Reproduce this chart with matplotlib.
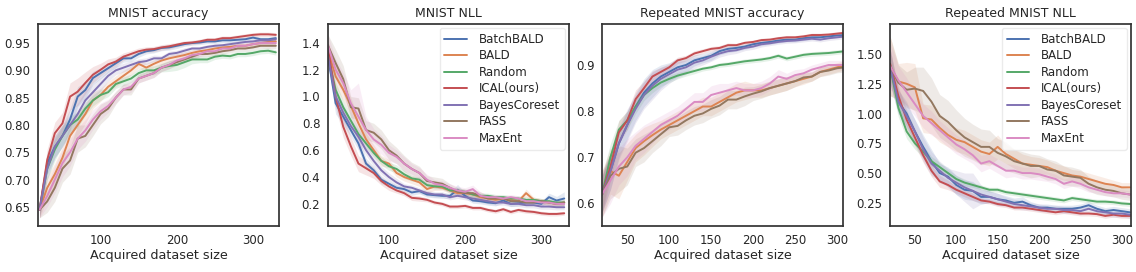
import numpy as np
import matplotlib
matplotlib.use("Agg")
import matplotlib.pyplot as plt
import seaborn as sns

# Стиль как в оригинале: белый фон, без сетки, палитра deep
sns.set_style("white")
plt.rcParams['font.family'] = ['DejaVu Sans']

methods = ["BatchBALD", "BALD", "Random", "ICAL(ours)", "BayesCoreset", "FASS", "MaxEnt"]
colors = sns.color_palette("deep", 7)

titles = ["MNIST accuracy", "MNIST NLL", "Repeated MNIST accuracy", "Repeated MNIST NLL"]

# region Данные: MNIST (размер выборки 20..330)
x_mnist = np.arange(20, 331, 10)
x_rep = np.arange(20, 311, 10)

acc_batchbald = [0.645, 0.730, 0.760, 0.780, 0.810, 0.852, 0.864, 0.886, 0.895, 0.904, 0.913, 0.922, 0.922, 0.930, 0.935, 0.937, 0.941, 0.942, 0.945, 0.948, 0.950, 0.951, 0.953, 0.953, 0.955, 0.955, 0.956, 0.957, 0.960, 0.957, 0.957, 0.959]
acc_bald = [0.645, 0.685, 0.710, 0.740, 0.780, 0.800, 0.820, 0.845, 0.855, 0.870, 0.880, 0.890, 0.900, 0.912, 0.905, 0.912, 0.918, 0.922, 0.925, 0.928, 0.932, 0.935, 0.937, 0.940, 0.942, 0.943, 0.945, 0.945, 0.948, 0.950, 0.952, 0.953]
acc_random = [0.645, 0.720, 0.755, 0.780, 0.800, 0.810, 0.830, 0.845, 0.855, 0.860, 0.875, 0.880, 0.885, 0.895, 0.900, 0.900, 0.905, 0.908, 0.910, 0.915, 0.920, 0.920, 0.920, 0.925, 0.927, 0.926, 0.930, 0.930, 0.932, 0.935, 0.936, 0.933]
acc_ical = [0.645, 0.736, 0.785, 0.803, 0.852, 0.861, 0.877, 0.892, 0.901, 0.911, 0.916, 0.925, 0.930, 0.935, 0.938, 0.939, 0.942, 0.944, 0.947, 0.950, 0.951, 0.953, 0.956, 0.956, 0.959, 0.959, 0.961, 0.963, 0.965, 0.966, 0.966, 0.965]
acc_coreset = [0.645, 0.720, 0.760, 0.780, 0.800, 0.820, 0.845, 0.860, 0.875, 0.890, 0.900, 0.905, 0.910, 0.915, 0.917, 0.922, 0.922, 0.930, 0.932, 0.936, 0.940, 0.940, 0.943, 0.945, 0.946, 0.948, 0.950, 0.952, 0.953, 0.955, 0.955, 0.957]
acc_fass = [0.645, 0.660, 0.685, 0.720, 0.735, 0.775, 0.780, 0.800, 0.820, 0.830, 0.850, 0.865, 0.865, 0.885, 0.890, 0.895, 0.905, 0.910, 0.915, 0.920, 0.925, 0.930, 0.930, 0.932, 0.935, 0.937, 0.940, 0.940, 0.942, 0.945, 0.945, 0.945]
acc_maxent = [0.645, 0.670, 0.700, 0.730, 0.750, 0.775, 0.790, 0.810, 0.825, 0.835, 0.850, 0.865, 0.870, 0.885, 0.890, 0.895, 0.905, 0.910, 0.918, 0.922, 0.928, 0.930, 0.935, 0.935, 0.940, 0.940, 0.945, 0.945, 0.948, 0.950, 0.950, 0.950]

# полуширина закрашенной полосы
acc_batchbald_sd = [0.015, 0.020, 0.020, 0.020, 0.020, 0.018, 0.015, 0.012, 0.010, 0.008, 0.008, 0.007, 0.006, 0.006, 0.005, 0.005, 0.005, 0.005, 0.005, 0.004, 0.004, 0.004, 0.004, 0.004, 0.004, 0.004, 0.004, 0.004, 0.004, 0.004, 0.004, 0.004]
acc_bald_sd = [0.015, 0.020, 0.020, 0.020, 0.020, 0.020, 0.018, 0.015, 0.012, 0.010, 0.010, 0.010, 0.008, 0.008, 0.008, 0.007, 0.007, 0.006, 0.006, 0.006, 0.005, 0.005, 0.005, 0.005, 0.005, 0.005, 0.005, 0.005, 0.005, 0.005, 0.005, 0.005]
acc_random_sd = [0.015, 0.020, 0.020, 0.018, 0.015, 0.015, 0.012, 0.010, 0.010, 0.008, 0.008, 0.008, 0.008, 0.008, 0.008, 0.008, 0.008, 0.010, 0.010, 0.010, 0.008, 0.006, 0.006, 0.005, 0.005, 0.005, 0.005, 0.005, 0.005, 0.005, 0.005, 0.005]
acc_ical_sd = [0.015, 0.020, 0.020, 0.020, 0.025, 0.025, 0.020, 0.015, 0.012, 0.010, 0.008, 0.007, 0.006, 0.006, 0.005, 0.005, 0.005, 0.005, 0.004, 0.004, 0.004, 0.004, 0.004, 0.004, 0.004, 0.004, 0.004, 0.004, 0.004, 0.004, 0.004, 0.004]
acc_coreset_sd = [0.015, 0.020, 0.020, 0.020, 0.020, 0.020, 0.018, 0.015, 0.012, 0.010, 0.008, 0.008, 0.007, 0.006, 0.006, 0.006, 0.005, 0.005, 0.005, 0.005, 0.004, 0.004, 0.004, 0.004, 0.004, 0.004, 0.004, 0.004, 0.004, 0.004, 0.004, 0.004]
acc_fass_sd = [0.015, 0.020, 0.025, 0.025, 0.025, 0.025, 0.020, 0.020, 0.018, 0.015, 0.012, 0.010, 0.010, 0.008, 0.008, 0.008, 0.007, 0.007, 0.006, 0.006, 0.006, 0.005, 0.005, 0.005, 0.005, 0.005, 0.005, 0.005, 0.005, 0.005, 0.005, 0.005]
acc_maxent_sd = [0.015, 0.020, 0.025, 0.025, 0.025, 0.020, 0.020, 0.018, 0.015, 0.012, 0.010, 0.010, 0.010, 0.008, 0.008, 0.008, 0.007, 0.007, 0.006, 0.006, 0.006, 0.005, 0.005, 0.005, 0.005, 0.005, 0.005, 0.005, 0.005, 0.005, 0.005, 0.005]

nll_batchbald = [1.30, 0.95, 0.85, 0.75, 0.65, 0.50, 0.45, 0.38, 0.35, 0.32, 0.31, 0.285, 0.295, 0.27, 0.265, 0.26, 0.26, 0.305, 0.26, 0.225, 0.22, 0.21, 0.205, 0.225, 0.20, 0.205, 0.21, 0.21, 0.20, 0.25, 0.225, 0.24]
nll_bald = [1.35, 1.15, 1.05, 0.93, 0.80, 0.68, 0.60, 0.52, 0.50, 0.43, 0.40, 0.38, 0.36, 0.31, 0.33, 0.32, 0.30, 0.28, 0.28, 0.27, 0.25, 0.24, 0.23, 0.24, 0.23, 0.22, 0.28, 0.23, 0.22, 0.21, 0.20, 0.21]
nll_random = [1.30, 1.05, 0.92, 0.82, 0.72, 0.65, 0.58, 0.52, 0.48, 0.46, 0.42, 0.39, 0.38, 0.34, 0.33, 0.33, 0.30, 0.30, 0.29, 0.27, 0.26, 0.26, 0.25, 0.25, 0.24, 0.24, 0.23, 0.23, 0.22, 0.22, 0.21, 0.21]
nll_ical = [1.36, 1.00, 0.775, 0.63, 0.50, 0.465, 0.43, 0.37, 0.33, 0.30, 0.28, 0.245, 0.24, 0.23, 0.21, 0.20, 0.18, 0.18, 0.185, 0.17, 0.17, 0.155, 0.145, 0.16, 0.14, 0.155, 0.145, 0.14, 0.13, 0.125, 0.125, 0.13]
nll_coreset = [1.30, 1.00, 0.88, 0.78, 0.70, 0.60, 0.52, 0.45, 0.40, 0.36, 0.33, 0.32, 0.30, 0.28, 0.27, 0.27, 0.25, 0.26, 0.25, 0.24, 0.23, 0.22, 0.21, 0.21, 0.20, 0.20, 0.19, 0.19, 0.18, 0.18, 0.175, 0.175]
nll_fass = [1.38, 1.25, 1.13, 0.92, 0.91, 0.75, 0.73, 0.68, 0.60, 0.56, 0.50, 0.46, 0.43, 0.37, 0.36, 0.35, 0.32, 0.29, 0.28, 0.28, 0.26, 0.24, 0.24, 0.24, 0.22, 0.22, 0.21, 0.21, 0.22, 0.21, 0.20, 0.21]
nll_maxent = [1.38, 1.20, 1.10, 0.95, 0.85, 0.75, 0.68, 0.64, 0.58, 0.55, 0.50, 0.46, 0.43, 0.38, 0.35, 0.34, 0.32, 0.30, 0.29, 0.31, 0.26, 0.25, 0.25, 0.24, 0.25, 0.24, 0.22, 0.22, 0.21, 0.21, 0.20, 0.20]

nll_batchbald_sd = [0.06, 0.08, 0.06, 0.05, 0.05, 0.04, 0.03, 0.03, 0.02, 0.02, 0.02, 0.02, 0.02, 0.02, 0.02, 0.02, 0.02, 0.04, 0.02, 0.02, 0.02, 0.02, 0.02, 0.02, 0.02, 0.02, 0.02, 0.02, 0.02, 0.03, 0.03, 0.05]
nll_bald_sd = [0.06, 0.08, 0.08, 0.06, 0.05, 0.05, 0.04, 0.04, 0.03, 0.03, 0.03, 0.03, 0.03, 0.03, 0.03, 0.02, 0.02, 0.02, 0.02, 0.02, 0.02, 0.02, 0.02, 0.02, 0.02, 0.02, 0.03, 0.02, 0.02, 0.02, 0.02, 0.02]
nll_random_sd = [0.06, 0.06, 0.05, 0.05, 0.04, 0.04, 0.03, 0.03, 0.03, 0.03, 0.03, 0.02, 0.02, 0.02, 0.02, 0.02, 0.02, 0.02, 0.02, 0.02, 0.02, 0.02, 0.02, 0.02, 0.02, 0.02, 0.02, 0.02, 0.02, 0.02, 0.02, 0.02]
nll_ical_sd = [0.06, 0.08, 0.08, 0.07, 0.06, 0.05, 0.04, 0.03, 0.03, 0.02, 0.02, 0.02, 0.02, 0.015, 0.015, 0.015, 0.015, 0.015, 0.015, 0.015, 0.015, 0.015, 0.015, 0.015, 0.015, 0.015, 0.015, 0.015, 0.015, 0.015, 0.015, 0.015]
nll_coreset_sd = [0.06, 0.07, 0.06, 0.05, 0.05, 0.04, 0.04, 0.03, 0.03, 0.03, 0.02, 0.02, 0.02, 0.02, 0.02, 0.02, 0.02, 0.02, 0.02, 0.02, 0.02, 0.02, 0.02, 0.02, 0.02, 0.02, 0.02, 0.02, 0.02, 0.02, 0.02, 0.02]
nll_fass_sd = [0.08, 0.10, 0.10, 0.08, 0.08, 0.07, 0.07, 0.07, 0.07, 0.06, 0.06, 0.05, 0.05, 0.04, 0.04, 0.04, 0.03, 0.03, 0.03, 0.03, 0.03, 0.02, 0.02, 0.02, 0.02, 0.02, 0.02, 0.02, 0.02, 0.02, 0.02, 0.02]
nll_maxent_sd = [0.08, 0.08, 0.08, 0.10, 0.25, 0.10, 0.08, 0.07, 0.06, 0.05, 0.05, 0.04, 0.04, 0.04, 0.03, 0.03, 0.03, 0.03, 0.03, 0.03, 0.03, 0.02, 0.02, 0.02, 0.02, 0.02, 0.02, 0.02, 0.02, 0.02, 0.02, 0.02]
# endregion

# region Данные: Repeated MNIST (размер выборки 20..310)
racc_batchbald = [0.62, 0.67, 0.73, 0.77, 0.81, 0.84, 0.86, 0.875, 0.885, 0.895, 0.90, 0.91, 0.915, 0.92, 0.93, 0.935, 0.937, 0.94, 0.945, 0.948, 0.95, 0.953, 0.955, 0.955, 0.958, 0.96, 0.96, 0.962, 0.964, 0.965]
racc_bald = [0.62, 0.67, 0.66, 0.69, 0.72, 0.735, 0.748, 0.76, 0.77, 0.78, 0.79, 0.80, 0.81, 0.81, 0.82, 0.83, 0.84, 0.845, 0.845, 0.845, 0.85, 0.855, 0.86, 0.865, 0.87, 0.875, 0.885, 0.89, 0.895, 0.90]
racc_random = [0.62, 0.70, 0.76, 0.78, 0.81, 0.835, 0.85, 0.862, 0.87, 0.877, 0.882, 0.887, 0.892, 0.895, 0.90, 0.902, 0.905, 0.908, 0.91, 0.912, 0.915, 0.92, 0.914, 0.918, 0.922, 0.924, 0.925, 0.926, 0.928, 0.93]
racc_ical = [0.62, 0.68, 0.754, 0.78, 0.826, 0.85, 0.875, 0.885, 0.895, 0.91, 0.915, 0.925, 0.93, 0.935, 0.937, 0.943, 0.943, 0.948, 0.95, 0.954, 0.955, 0.958, 0.96, 0.96, 0.962, 0.965, 0.965, 0.966, 0.968, 0.97]
racc_coreset = [0.62, 0.67, 0.73, 0.77, 0.805, 0.835, 0.855, 0.87, 0.88, 0.89, 0.895, 0.905, 0.91, 0.918, 0.925, 0.93, 0.932, 0.937, 0.94, 0.945, 0.947, 0.95, 0.952, 0.953, 0.955, 0.957, 0.955, 0.958, 0.96, 0.962]
racc_fass = [0.62, 0.66, 0.675, 0.68, 0.71, 0.72, 0.735, 0.75, 0.765, 0.768, 0.78, 0.79, 0.795, 0.805, 0.812, 0.825, 0.825, 0.832, 0.838, 0.843, 0.85, 0.855, 0.86, 0.865, 0.873, 0.875, 0.885, 0.888, 0.893, 0.895]
racc_maxent = [0.62, 0.65, 0.68, 0.70, 0.725, 0.74, 0.755, 0.77, 0.78, 0.79, 0.805, 0.82, 0.82, 0.835, 0.84, 0.845, 0.85, 0.845, 0.845, 0.85, 0.86, 0.875, 0.87, 0.878, 0.882, 0.89, 0.895, 0.90, 0.90, 0.90]

racc_batchbald_sd = [0.04, 0.04, 0.03, 0.03, 0.03, 0.03, 0.03, 0.025, 0.02, 0.02, 0.015, 0.012, 0.01, 0.01, 0.008, 0.008, 0.007, 0.006, 0.006, 0.006, 0.005, 0.005, 0.005, 0.005, 0.005, 0.005, 0.005, 0.005, 0.005, 0.005]
racc_bald_sd = [0.05, 0.05, 0.05, 0.04, 0.03, 0.03, 0.025, 0.02, 0.02, 0.02, 0.02, 0.02, 0.02, 0.02, 0.02, 0.02, 0.02, 0.02, 0.015, 0.015, 0.015, 0.015, 0.015, 0.012, 0.012, 0.01, 0.01, 0.01, 0.01, 0.01]
racc_random_sd = [0.04, 0.03, 0.02, 0.02, 0.015, 0.012, 0.01, 0.008, 0.008, 0.007, 0.006, 0.006, 0.005, 0.005, 0.005, 0.005, 0.005, 0.005, 0.005, 0.005, 0.005, 0.005, 0.005, 0.005, 0.005, 0.005, 0.005, 0.005, 0.005, 0.005]
racc_ical_sd = [0.04, 0.03, 0.025, 0.02, 0.02, 0.015, 0.012, 0.01, 0.008, 0.007, 0.006, 0.006, 0.005, 0.005, 0.005, 0.005, 0.004, 0.004, 0.004, 0.004, 0.004, 0.004, 0.004, 0.004, 0.004, 0.004, 0.004, 0.004, 0.004, 0.004]
racc_coreset_sd = [0.04, 0.04, 0.035, 0.035, 0.03, 0.03, 0.03, 0.025, 0.02, 0.018, 0.015, 0.012, 0.01, 0.01, 0.008, 0.008, 0.007, 0.006, 0.006, 0.006, 0.005, 0.005, 0.005, 0.005, 0.005, 0.005, 0.005, 0.005, 0.005, 0.005]
racc_fass_sd = [0.05, 0.05, 0.05, 0.04, 0.03, 0.03, 0.025, 0.025, 0.02, 0.02, 0.02, 0.02, 0.02, 0.02, 0.02, 0.02, 0.02, 0.02, 0.015, 0.015, 0.015, 0.015, 0.015, 0.012, 0.012, 0.01, 0.01, 0.01, 0.01, 0.01]
racc_maxent_sd = [0.05, 0.05, 0.04, 0.04, 0.03, 0.03, 0.025, 0.02, 0.02, 0.02, 0.02, 0.02, 0.02, 0.02, 0.02, 0.015, 0.015, 0.015, 0.015, 0.015, 0.015, 0.015, 0.012, 0.012, 0.01, 0.01, 0.01, 0.01, 0.01, 0.01]

rnll_batchbald = [1.40, 1.10, 1.00, 0.85, 0.72, 0.60, 0.50, 0.47, 0.40, 0.36, 0.35, 0.30, 0.30, 0.28, 0.27, 0.25, 0.26, 0.23, 0.21, 0.21, 0.20, 0.20, 0.20, 0.21, 0.23, 0.20, 0.18, 0.19, 0.18, 0.17]
rnll_bald = [1.40, 1.27, 1.25, 1.22, 0.96, 0.95, 0.88, 0.82, 0.78, 0.76, 0.72, 0.68, 0.66, 0.72, 0.66, 0.62, 0.58, 0.57, 0.56, 0.55, 0.52, 0.50, 0.48, 0.47, 0.45, 0.43, 0.41, 0.40, 0.38, 0.38]
rnll_random = [1.40, 1.05, 0.85, 0.75, 0.68, 0.60, 0.55, 0.50, 0.45, 0.42, 0.40, 0.38, 0.36, 0.36, 0.34, 0.33, 0.32, 0.31, 0.30, 0.29, 0.28, 0.27, 0.29, 0.28, 0.27, 0.26, 0.26, 0.255, 0.245, 0.24]
rnll_ical = [1.42, 1.15, 0.95, 0.80, 0.65, 0.52, 0.43, 0.40, 0.36, 0.33, 0.30, 0.27, 0.26, 0.24, 0.23, 0.21, 0.21, 0.20, 0.19, 0.18, 0.17, 0.18, 0.17, 0.16, 0.16, 0.155, 0.14, 0.15, 0.14, 0.14]
rnll_coreset = [1.40, 1.10, 0.98, 0.85, 0.70, 0.58, 0.52, 0.46, 0.42, 0.38, 0.35, 0.32, 0.30, 0.28, 0.26, 0.24, 0.23, 0.22, 0.21, 0.20, 0.20, 0.19, 0.19, 0.18, 0.20, 0.18, 0.17, 0.16, 0.16, 0.15]
rnll_fass = [1.40, 1.26, 1.20, 1.21, 1.19, 1.10, 0.98, 0.93, 0.86, 0.80, 0.76, 0.72, 0.72, 0.67, 0.64, 0.60, 0.58, 0.56, 0.56, 0.53, 0.52, 0.48, 0.47, 0.46, 0.41, 0.38, 0.36, 0.35, 0.33, 0.32]
rnll_maxent = [1.40, 1.28, 1.18, 1.08, 0.98, 0.92, 0.86, 0.80, 0.74, 0.70, 0.65, 0.58, 0.60, 0.56, 0.52, 0.52, 0.50, 0.50, 0.49, 0.47, 0.45, 0.41, 0.43, 0.41, 0.38, 0.36, 0.34, 0.33, 0.33, 0.32]

rnll_batchbald_sd = [0.15, 0.10, 0.10, 0.10, 0.10, 0.10, 0.08, 0.08, 0.08, 0.08, 0.08, 0.06, 0.05, 0.05, 0.04, 0.04, 0.04, 0.03, 0.03, 0.03, 0.03, 0.03, 0.03, 0.03, 0.03, 0.03, 0.03, 0.03, 0.03, 0.03]
rnll_bald_sd = [0.25, 0.15, 0.18, 0.20, 0.12, 0.12, 0.12, 0.10, 0.10, 0.10, 0.10, 0.10, 0.10, 0.10, 0.08, 0.08, 0.08, 0.07, 0.07, 0.06, 0.06, 0.06, 0.05, 0.05, 0.05, 0.05, 0.05, 0.04, 0.04, 0.04]
rnll_random_sd = [0.12, 0.08, 0.06, 0.05, 0.05, 0.04, 0.04, 0.03, 0.03, 0.03, 0.02, 0.02, 0.02, 0.02, 0.02, 0.02, 0.02, 0.02, 0.02, 0.02, 0.02, 0.02, 0.02, 0.02, 0.02, 0.02, 0.02, 0.02, 0.02, 0.02]
rnll_ical_sd = [0.12, 0.08, 0.08, 0.07, 0.06, 0.05, 0.05, 0.04, 0.03, 0.03, 0.03, 0.02, 0.02, 0.02, 0.02, 0.02, 0.02, 0.02, 0.02, 0.02, 0.02, 0.02, 0.02, 0.02, 0.02, 0.02, 0.02, 0.02, 0.02, 0.02]
rnll_coreset_sd = [0.15, 0.10, 0.10, 0.10, 0.10, 0.10, 0.08, 0.08, 0.10, 0.12, 0.15, 0.08, 0.05, 0.05, 0.04, 0.04, 0.04, 0.03, 0.03, 0.03, 0.03, 0.03, 0.03, 0.03, 0.03, 0.03, 0.03, 0.03, 0.03, 0.03]
rnll_fass_sd = [0.25, 0.15, 0.15, 0.18, 0.20, 0.20, 0.18, 0.18, 0.17, 0.16, 0.15, 0.15, 0.14, 0.12, 0.12, 0.10, 0.10, 0.10, 0.09, 0.09, 0.08, 0.08, 0.08, 0.07, 0.06, 0.06, 0.05, 0.05, 0.05, 0.05]
rnll_maxent_sd = [0.20, 0.12, 0.12, 0.10, 0.10, 0.10, 0.08, 0.08, 0.08, 0.08, 0.07, 0.07, 0.06, 0.06, 0.06, 0.05, 0.05, 0.05, 0.05, 0.04, 0.04, 0.04, 0.04, 0.04, 0.04, 0.03, 0.03, 0.03, 0.03, 0.03]
# endregion

panels = [
    (x_mnist, [acc_batchbald, acc_bald, acc_random, acc_ical, acc_coreset, acc_fass, acc_maxent],
     [acc_batchbald_sd, acc_bald_sd, acc_random_sd, acc_ical_sd, acc_coreset_sd, acc_fass_sd, acc_maxent_sd]),
    (x_mnist, [nll_batchbald, nll_bald, nll_random, nll_ical, nll_coreset, nll_fass, nll_maxent],
     [nll_batchbald_sd, nll_bald_sd, nll_random_sd, nll_ical_sd, nll_coreset_sd, nll_fass_sd, nll_maxent_sd]),
    (x_rep, [racc_batchbald, racc_bald, racc_random, racc_ical, racc_coreset, racc_fass, racc_maxent],
     [racc_batchbald_sd, racc_bald_sd, racc_random_sd, racc_ical_sd, racc_coreset_sd, racc_fass_sd, racc_maxent_sd]),
    (x_rep, [rnll_batchbald, rnll_bald, rnll_random, rnll_ical, rnll_coreset, rnll_fass, rnll_maxent],
     [rnll_batchbald_sd, rnll_bald_sd, rnll_random_sd, rnll_ical_sd, rnll_coreset_sd, rnll_fass_sd, rnll_maxent_sd]),
]

# Положение осей (в долях фигуры) и пределы
lefts = [0.0335, 0.2887, 0.530, 0.7835]
xlims = [(18, 334), (20, 336), (20, 307), (20, 311)]
ylims = [(0.615, 0.985), (0.035, 1.54), (0.551, 0.989), (0.055, 1.753)]
yticks = [[0.65, 0.70, 0.75, 0.80, 0.85, 0.90, 0.95], [0.2, 0.4, 0.6, 0.8, 1.0, 1.2, 1.4],
          [0.6, 0.7, 0.8, 0.9], [0.25, 0.50, 0.75, 1.00, 1.25, 1.50]]
ytick_fmt = ["%.2f", "%.1f", "%.1f", "%.2f"]
xticks = [[100, 200, 300], [100, 200, 300], [50, 100, 150, 200, 250, 300], [50, 100, 150, 200, 250, 300]]

fig = plt.figure(figsize=(11.36, 2.72), dpi=100)

for i, (x, series, bands) in enumerate(panels):
    ax = fig.add_axes([lefts[i], 0.169, 0.212, 0.743])
    for name, y, sd, c in zip(methods, series, bands, colors):
        y = np.array(y)
        sd = np.array(sd)
        ax.fill_between(x, y - sd, y + sd, color=c, alpha=0.15, linewidth=0)  # разброс
        ax.plot(x, y, color=c, lw=1.4, label=name)  # среднее
    ax.set_xlim(*xlims[i])
    ax.set_ylim(*ylims[i])
    ax.set_yticks(yticks[i])
    ax.set_yticklabels([ytick_fmt[i] % v for v in yticks[i]])
    ax.set_xticks(xticks[i])
    ax.tick_params(labelsize=8.5, colors='.15', pad=2)
    ax.set_title(titles[i], fontsize=9, color='.15', pad=5)
    ax.set_xlabel("Acquired dataset size", fontsize=9.2, color='.15', labelpad=2)
    for s in ax.spines.values():
        s.set_edgecolor('.2')
        s.set_linewidth(1.25)
    if i in (1, 3):
        ax.legend(loc="upper right", fontsize=8.5, frameon=True, framealpha=0.8,
                  edgecolor='.9', borderaxespad=0.35, handlelength=1.9, handletextpad=1.0,
                  labelspacing=0.3)

fig.savefig("out.png", dpi=100)
